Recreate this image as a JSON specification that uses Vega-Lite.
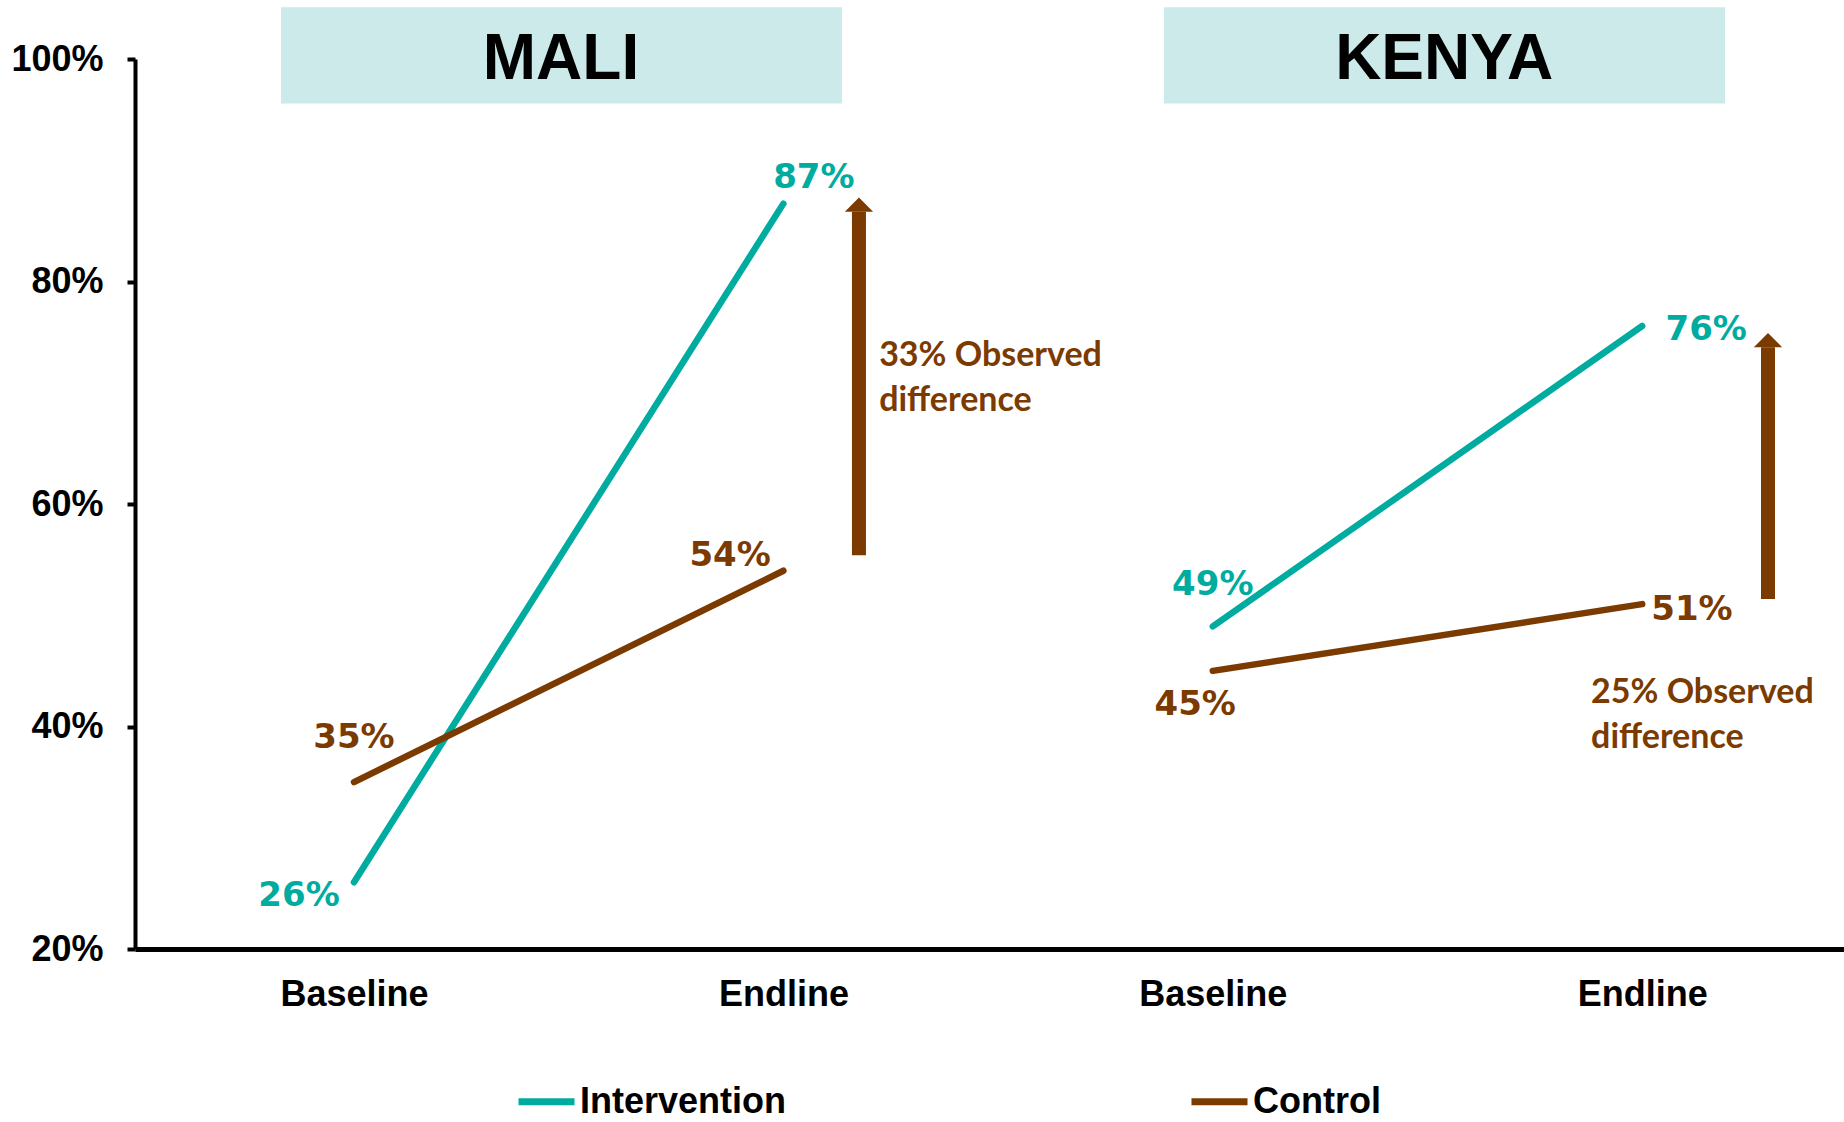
{
  "$schema": "https://vega.github.io/schema/vega-lite/v6.json",
  "width": 1709,
  "height": 890,
  "autosize": {"type": "none"},
  "padding": {"left": 135, "top": 59, "right": 0, "bottom": 173},
  "background": "white",
  "config": {"view": {"stroke": null}, "font": "Liberation Sans"},
  "datasets": {
    "series": [
      {"country": "Mali", "phase": "Baseline", "slot": 1, "group": "Intervention", "value": 26},
      {"country": "Mali", "phase": "Endline", "slot": 2, "group": "Intervention", "value": 87},
      {"country": "Mali", "phase": "Baseline", "slot": 1, "group": "Control", "value": 35},
      {"country": "Mali", "phase": "Endline", "slot": 2, "group": "Control", "value": 54},
      {"country": "Kenya", "phase": "Baseline", "slot": 3, "group": "Intervention", "value": 49},
      {"country": "Kenya", "phase": "Endline", "slot": 4, "group": "Intervention", "value": 76},
      {"country": "Kenya", "phase": "Baseline", "slot": 3, "group": "Control", "value": 45},
      {"country": "Kenya", "phase": "Endline", "slot": 4, "group": "Control", "value": 51}
    ],
    "valueLabels": [
      {"label": "87%", "group": "Intervention", "lx": 2.071, "ly": 89.3},
      {"label": "26%", "group": "Intervention", "lx": 0.872, "ly": 24.8},
      {"label": "35%", "group": "Control", "lx": 1.0, "ly": 39.0},
      {"label": "54%", "group": "Control", "lx": 1.876, "ly": 55.3},
      {"label": "49%", "group": "Intervention", "lx": 3.0, "ly": 52.7},
      {"label": "45%", "group": "Control", "lx": 2.959, "ly": 41.9},
      {"label": "76%", "group": "Intervention", "lx": 4.149, "ly": 75.6},
      {"label": "51%", "group": "Control", "lx": 4.116, "ly": 50.5}
    ],
    "panels": [
      {"country": "MALI", "x1": 0.83, "x2": 2.1365, "y1": 96.0, "y2": 104.65, "tx": 1.482, "ty": 98.2},
      {"country": "KENYA", "x1": 2.886, "x2": 4.193, "y1": 96.0, "y2": 104.65, "tx": 3.539, "ty": 98.2}
    ],
    "arrows": [
      {"country": "Mali", "ax": 2.176, "from": 55.4, "to": 86.27},
      {"country": "Kenya", "ax": 4.293, "from": 51.46, "to": 74.1}
    ],
    "notes": [
      {"country": "Mali", "nx": 2.223, "ny": 72.4, "note": "33%  Observed\ndifference"},
      {"country": "Kenya", "nx": 3.881, "ny": 42.1, "note": "25%  Observed\ndifference"}
    ]
  },
  "layer": [
    {
      "data": {"name": "panels"},
      "mark": {"type": "rect", "color": "#CCEAEA"},
      "encoding": {
        "x": {"field": "x1", "type": "quantitative", "scale": {"domain": [0.49, 4.47], "nice": false, "zero": false},
          "axis": {"values": [1, 2, 3, 4], "labelExpr": "datum.value == 1 || datum.value == 3 ? 'Baseline' : 'Endline'", "title": null, "ticks": false, "grid": false, "domainColor": "black", "domainWidth": 5, "labelFont": "Liberation Sans", "labelFontWeight": "bold", "labelFontSize": 36, "labelColor": "black", "labelPadding": 28, "labelFlush": false, "labelOverlap": false}},
        "x2": {"field": "x2"},
        "y": {"field": "y1", "type": "quantitative", "scale": {"domain": [20, 100], "nice": false, "zero": false},
          "axis": {"values": [20, 40, 60, 80, 100], "labelExpr": "datum.value + '%'", "title": null, "grid": false, "tickSize": 8, "tickWidth": 4, "tickColor": "black", "domainColor": "black", "domainWidth": 4, "labelFont": "Liberation Sans", "labelFontWeight": "bold", "labelFontSize": 36, "labelColor": "black", "labelPadding": 24, "labelFlush": false, "labelOverlap": false}},
        "y2": {"field": "y2"}
      }
    },
    {
      "data": {"name": "panels"},
      "mark": {"type": "text", "font": "Liberation Sans", "fontWeight": "bold", "fontSize": 64, "color": "black", "align": "center", "baseline": "alphabetic"},
      "encoding": {
        "x": {"field": "tx", "type": "quantitative"},
        "y": {"field": "ty", "type": "quantitative"},
        "text": {"field": "country"}
      }
    },
    {
      "data": {"name": "arrows"},
      "mark": {"type": "rule", "color": "#7B3A00", "strokeWidth": 14, "strokeCap": "butt"},
      "encoding": {
        "x": {"field": "ax", "type": "quantitative"},
        "y": {"field": "from", "type": "quantitative"},
        "y2": {"field": "to"}
      }
    },
    {
      "data": {"name": "arrows"},
      "mark": {"type": "point", "shape": "M-1,0L1,0L0,-1Z", "filled": true, "color": "#7B3A00", "opacity": 1, "size": 800, "strokeWidth": 0},
      "encoding": {
        "x": {"field": "ax", "type": "quantitative"},
        "y": {"field": "to", "type": "quantitative"}
      }
    },
    {
      "data": {"name": "series"},
      "mark": {"type": "line", "strokeWidth": 6.5, "strokeCap": "round"},
      "encoding": {
        "x": {"field": "slot", "type": "quantitative"},
        "y": {"field": "value", "type": "quantitative"},
        "detail": {"field": "country"},
        "color": {"field": "group", "type": "nominal",
          "scale": {"domain": ["Intervention", "Control"], "range": ["#00AB9F", "#7B3A00"]},
          "legend": {"orient": "none", "legendX": 380, "legendY": 1011, "direction": "horizontal", "title": null,
            "symbolType": "stroke", "symbolStrokeWidth": 7, "symbolSize": 3136, "labelFont": "Liberation Sans",
            "labelFontWeight": "bold", "labelFontSize": 36, "labelColor": "black", "columnPadding": 390, "labelOffset": 2, "padding": 0, "labelLimit": 400}}
      }
    },
    {
      "data": {"name": "valueLabels"},
      "mark": {"type": "text", "font": "DejaVu Sans", "fontWeight": "bold", "fontSize": 34, "align": "center", "baseline": "middle"},
      "encoding": {
        "x": {"field": "lx", "type": "quantitative"},
        "y": {"field": "ly", "type": "quantitative"},
        "text": {"field": "label"},
        "fill": {"field": "group", "type": "nominal", "scale": {"domain": ["Intervention", "Control"], "range": ["#00AB9F", "#7B3A00"]}, "legend": null}
      }
    },
    {
      "data": {"name": "notes"},
      "mark": {"type": "text", "font": "Lato", "fontWeight": "bold", "fontSize": 34, "align": "left", "baseline": "alphabetic", "lineBreak": "\n", "lineHeight": 45, "color": "#7B3A00"},
      "encoding": {
        "x": {"field": "nx", "type": "quantitative"},
        "y": {"field": "ny", "type": "quantitative"},
        "text": {"field": "note"}
      }
    }
  ]
}
